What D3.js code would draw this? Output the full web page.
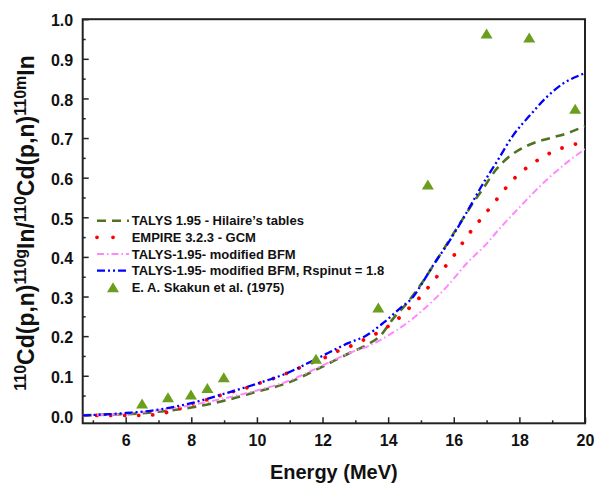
<!DOCTYPE html>
<html>
<head>
<meta charset="utf-8">
<script src="https://cdnjs.cloudflare.com/ajax/libs/d3/7.8.5/d3.min.js"></script>
<style>
  body { margin: 0; background: #fff; }
  svg { display: block; font-family: "Liberation Sans", Arial, sans-serif; font-weight: bold; }
</style>
</head>
<body>
<svg id="chart" width="596" height="483"></svg>
<script>
// data: [energy MeV, ratio]
var talysHilaire = [
  [4.69, 0.000], [5.5, 0.002], [6.0, 0.003], [7.0, 0.009], [8.0, 0.020], [9.0, 0.037],
  [10.0, 0.060], [11.0, 0.084], [11.8, 0.115], [12.84, 0.158], [13.4, 0.180], [13.75, 0.200],
  [14.16, 0.245], [14.57, 0.283], [14.92, 0.321], [15.48, 0.392], [16.29, 0.498], [16.65, 0.544],
  [16.9, 0.573], [17.21, 0.612], [17.51, 0.640], [17.91, 0.666], [18.42, 0.687], [18.94, 0.700],
  [19.45, 0.712], [19.85, 0.725], [20.0, 0.730]
];
var empireGcm = [
  [4.69, 0.000], [5.7, 0.000], [6.2, 0.000], [6.6, 0.000], [7.05, 0.004], [7.45, 0.012],
  [7.86, 0.024], [8.5, 0.040], [9.18, 0.058], [9.59, 0.067], [9.99, 0.079], [10.4, 0.090],
  [10.81, 0.103], [11.21, 0.117], [11.64, 0.132], [12.02, 0.144], [12.43, 0.161], [12.86, 0.175],
  [13.24, 0.190], [13.65, 0.207], [14.04, 0.227], [14.36, 0.248], [14.69, 0.275], [14.99, 0.300],
  [15.3, 0.331], [15.58, 0.360], [15.86, 0.388], [16.12, 0.417], [16.38, 0.449], [16.65, 0.478],
  [16.93, 0.506], [17.21, 0.535], [17.48, 0.563], [17.75, 0.590], [18.07, 0.615], [18.41, 0.636],
  [18.79, 0.656], [19.21, 0.672], [19.63, 0.683], [20.0, 0.690]
];
var talysModBfm = [
  [4.69, 0.000], [5.5, 0.002], [6.0, 0.004], [6.8, 0.011], [7.5, 0.019], [8.0, 0.026],
  [8.9, 0.041], [10.0, 0.063], [10.9, 0.085], [11.8, 0.118], [12.3, 0.138], [12.84, 0.158],
  [13.4, 0.175], [13.95, 0.199], [14.57, 0.233], [15.18, 0.275], [15.79, 0.325], [16.4, 0.384],
  [17.01, 0.434], [17.36, 0.468], [18.0, 0.525], [18.5, 0.568], [19.0, 0.607], [19.55, 0.645],
  [20.0, 0.672]
];
var talysModBfmRspin = [
  [4.69, 0.000], [5.5, 0.003], [6.0, 0.006], [6.8, 0.012], [7.5, 0.022], [8.0, 0.031],
  [8.9, 0.052], [10.0, 0.080], [10.9, 0.106], [11.8, 0.142], [12.8, 0.183], [13.3, 0.200],
  [13.86, 0.234], [14.36, 0.270], [14.77, 0.300], [15.07, 0.338], [15.38, 0.380], [15.79, 0.430],
  [16.2, 0.485], [16.55, 0.535], [16.8, 0.572], [17.31, 0.640], [17.82, 0.708], [18.33, 0.758],
  [18.84, 0.804], [19.34, 0.838], [19.85, 0.859], [20.0, 0.864]
];
// E. A. Skakun et al. (1975)
var skakunE = [6.5, 7.29, 7.99, 8.49, 8.99, 11.8, 13.7, 15.21, 17.0, 18.3, 19.7];
var skakunR = [0.030, 0.046, 0.053, 0.069, 0.096, 0.143, 0.272, 0.583, 0.964, 0.954, 0.774];

var xMajor = [6, 8, 10, 12, 14, 16, 18, 20];
var xMinor = [5, 7, 9, 11, 13, 15, 17, 19];
var yMajor = [0, 0.1, 0.2, 0.3, 0.4, 0.5, 0.6, 0.7, 0.8, 0.9, 1.0];
var yMinor = [0.05, 0.15, 0.25, 0.35, 0.45, 0.55, 0.65, 0.75, 0.85, 0.95];

var seriesNames = [
  "TALYS 1.95 - Hilaire\u2019s tables",
  "EMPIRE 3.2.3 - GCM",
  "TALYS-1.95- modified BFM",
  "TALYS-1.95- modified BFM, Rspinut = 1.8",
  "E. A. Skakun et al. (1975)"
];

// styles
var styles = [
  { color: "#4f7321", width: 2.6, dash: "9 6", cap: "butt" },
  { color: "#ff0000", width: 3.8, dash: "0.01 14", cap: "round" },
  { color: "#ff88ff", width: 2.0, dash: "7 3 1.5 3", cap: "butt" },
  { color: "#0000ff", width: 2.3, dash: "8 3 2 3 2 3", cap: "butt" }
];
var markerColor = "#6b9e1c";

var svg = d3.select("#chart");
svg.append("rect").attr("width", 596).attr("height", 483).attr("fill", "#fff");

var plotLeft = 82.7, plotRight = 585, plotTop = 19.2, plotBottom = 423.3;
var x = d3.scaleLinear().domain([4.69, 20]).range([plotLeft, plotRight]);
var y = d3.scaleLinear().domain([-0.02, 1.0]).range([plotBottom, plotTop]);

svg.append("clipPath").attr("id", "plotclip")
  .append("rect").attr("x", plotLeft).attr("y", plotTop)
  .attr("width", plotRight - plotLeft).attr("height", plotBottom - plotTop);

// axes (ticks point inward)
var gx = svg.append("g").attr("transform", "translate(0," + plotBottom + ")")
  .call(d3.axisBottom(x).tickValues(xMajor).tickSizeInner(-6).tickSizeOuter(0).tickPadding(11).tickFormat(d3.format("d")));
var gxm = svg.append("g").attr("transform", "translate(0," + plotBottom + ")")
  .call(d3.axisBottom(x).tickValues(xMinor).tickSizeInner(-3).tickSizeOuter(0).tickFormat(""));
var gy = svg.append("g").attr("transform", "translate(" + plotLeft + ",0)")
  .call(d3.axisLeft(y).tickValues(yMajor).tickSizeInner(-6).tickSizeOuter(0).tickPadding(9.5).tickFormat(d3.format(".1f")));
var gym = svg.append("g").attr("transform", "translate(" + plotLeft + ",0)")
  .call(d3.axisLeft(y).tickValues(yMinor).tickSizeInner(-3).tickSizeOuter(0).tickFormat(""));

[gx, gxm, gy, gym].forEach(function(g) {
  g.select(".domain").remove();
  g.selectAll(".tick line").attr("stroke", "#222").attr("stroke-width", 1.5);
  g.selectAll("text").attr("fill", "#111").attr("font-size", 16).attr("font-family", null);
});
gy.selectAll("text").attr("dy", "0.42em");

// frame
svg.append("rect").attr("x", plotLeft).attr("y", plotTop)
  .attr("width", plotRight - plotLeft).attr("height", plotBottom - plotTop)
  .attr("fill", "none").attr("stroke", "#222").attr("stroke-width", 2);

// curves
var line = d3.line()
  .x(function(d) { return x(d[0]); })
  .y(function(d) { return y(d[1]); })
  .curve(d3.curveMonotoneX);

var plot = svg.append("g").attr("clip-path", "url(#plotclip)");
[talysHilaire, empireGcm, talysModBfm, talysModBfmRspin].forEach(function(s, i) {
  var st = styles[i];
  plot.append("path").datum(s)
    .attr("d", line)
    .attr("fill", "none")
    .attr("stroke", st.color)
    .attr("stroke-width", st.width)
    .attr("stroke-dasharray", st.dash)
    .attr("stroke-linecap", st.cap);
});

// triangle marker, centred at mid height
var tri = d3.symbol().type({
  draw: function(ctx, size) {
    ctx.moveTo(0, -5);
    ctx.lineTo(6, 5);
    ctx.lineTo(-6, 5);
    ctx.closePath();
  }
});
svg.append("g").selectAll("path")
  .data(skakunE.map(function(e, i) { return [e, skakunR[i]]; }))
  .enter().append("path")
  .attr("d", tri)
  .attr("transform", function(d) { return "translate(" + x(d[0]) + "," + y(d[1]) + ")"; })
  .attr("fill", markerColor);

// legend
var lx0 = 97, lx1 = 129, ltx = 131.7;
var rows = [220.7, 237.3, 254, 270.7, 287.3];
var legend = svg.append("g");
styles.forEach(function(st, i) {
  legend.append("line")
    .attr("x1", lx0).attr("x2", lx1).attr("y1", rows[i]).attr("y2", rows[i])
    .attr("stroke", st.color)
    .attr("stroke-width", st.width)
    .attr("stroke-dasharray", i == 1 ? "0.01 16" : st.dash)
    .attr("stroke-linecap", st.cap);
});
legend.append("path").attr("d", tri)
  .attr("transform", "translate(" + ((lx0 + lx1) / 2) + "," + rows[4] + ")")
  .attr("fill", markerColor);
seriesNames.forEach(function(name, i) {
  legend.append("text")
    .attr("x", ltx).attr("y", rows[i] + 4.7)
    .attr("font-size", 13).attr("fill", "#111")
    .text(name);
});

// axis titles
svg.append("text")
  .attr("x", (plotLeft + plotRight) / 2).attr("y", 479)
  .attr("text-anchor", "middle").attr("font-size", 20).attr("fill", "#111")
  .text("Energy (MeV)");

var yt = svg.append("text")
  .attr("transform", "translate(34,223) rotate(-90)")
  .attr("text-anchor", "middle").attr("font-size", 23).attr("fill", "#111");
var parts = [["110", true], ["Cd(p,n)", false], ["110g", true], ["In/", false],
             ["110", true], ["Cd(p,n)", false], ["110m", true], ["In", false]];
var raised = false;
parts.forEach(function(p) {
  var t = yt.append("tspan").text(p[0]);
  if (p[1]) {
    t.attr("font-size", 16).attr("dy", raised ? 0 : -8.5);
    raised = true;
  } else {
    t.attr("dy", raised ? 8.5 : 0);
    raised = false;
  }
});
</script>
</body>
</html>
